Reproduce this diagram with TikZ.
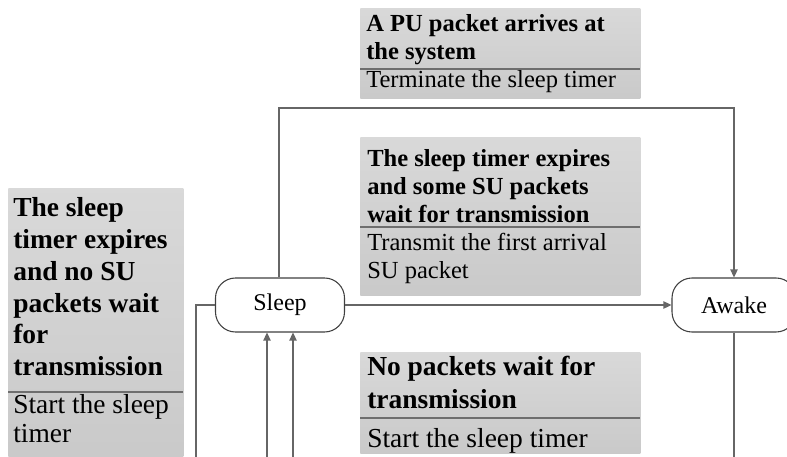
\documentclass[tikz,border=0pt]{standalone}
\usepackage{fontspec}
\setmainfont{Liberation Serif}
\usetikzlibrary{arrows.meta}
\definecolor{conncol}{HTML}{666666}
\definecolor{divcol}{HTML}{6E6E6E}
\tikzset{
  conn/.style={draw=conncol, line width=0.9pt},
  arr/.style={conn, -{Triangle[length=6pt,width=5.5pt]}},
  state/.style={draw=black!75, line width=0.8pt, rounded corners=15pt,
    minimum width=96.75pt, minimum height=40.5pt, inner sep=0pt,
    font=\fontsize{18}{21}\selectfont, fill=white},
  box/.style={anchor=north west, inner sep=0pt, top color=gray!30, bottom color=gray!42, draw=none},
  divider/.style={draw=divcol, line width=1.1pt},
  hs/.style={anchor=base west, inner sep=0pt, font=\fontsize{18.4}{21}\selectfont\bfseries},
  ts/.style={anchor=base west, inner sep=0pt, font=\fontsize{18.4}{21}\selectfont},
  hl/.style={anchor=base west, inner sep=0pt, font=\fontsize{20.6}{24}\selectfont\bfseries},
  tl/.style={anchor=base west, inner sep=0pt, font=\fontsize{20.6}{24}\selectfont},
}
\begin{document}
\begin{tikzpicture}[x=0.75pt, y=-0.75pt]
\clip (0,0) rectangle (787,456);
\fill[white] (0,0) rectangle (787,456);

% boxes
\node[box, minimum width=210pt, minimum height=67.5pt] (pubox) at (360,8) {};
\node[box, minimum width=210pt, minimum height=118.5pt] (subox) at (360,137) {};
\node[box, minimum width=210pt, minimum height=75.75pt] (npbox) at (360,352) {};
\node[box, minimum width=131.25pt, minimum height=204pt] (lbox) at (8,188) {};

% dividers
\coordinate (d1) at (360,69);  \draw[divider] (d1) -- ++(280,0);
\coordinate (d2) at (360,227); \draw[divider] (d2) -- ++(280,0);
\coordinate (d3) at (360,418); \draw[divider] (d3) -- ++(280,0);
\coordinate (d4) at (8,392);   \draw[divider] (d4) -- ++(175,0);

% texts: top box
\node[hs] (p1) at (366,32) {A PU packet arrives at};
\node[hs] (p2) at (366,60) {the system};
\node[ts] (p3) at (366,88) {Terminate the sleep timer};
% middle box
\node[hs] (s1) at (367,166) {The sleep timer expires};
\node[hs] (s2) at (367,194) {and some SU packets};
\node[hs] (s3) at (367,222) {wait for transmission};
\node[ts] (s4) at (367,250) {Transmit the first arrival};
\node[ts] (s5) at (367,278) {SU packet};
% lower box
\node[hl] (n1) at (367,375) {No packets wait for};
\node[hl] (n2) at (367,408) {transmission};
\node[tl] (n3) at (367,447) {Start the sleep timer};
% left box
\node[hl] (l1) at (13,216) {The sleep};
\node[hl] (l2) at (13,248) {timer expires};
\node[hl] (l3) at (13,280) {and no SU};
\node[hl] (l4) at (13,312) {packets wait};
\node[hl] (l5) at (13,343) {for};
\node[hl] (l6) at (13,375) {transmission};
\node[tl] (l7) at (13,413) {Start the sleep};
\node[tl] (l8) at (13,442) {timer};

% states
\node[state] (sleep) at (280,305) {Sleep};
\node[state, minimum width=93pt] (awake) at (734,305) {Awake};

% connectors
\coordinate (top) at (279,108);
\draw[arr] (sleep.north -| top) |- (awake.north |- top) -- (awake.north);
\draw[arr] (sleep.east) -- (awake.west);
\coordinate (lft) at (196,470);
\draw[conn] (sleep.west) -| (lft);
\coordinate (b1) at (267,470);
\coordinate (b2) at (293,470);
\draw[arr] (b1) -- (b1 |- sleep.south);
\draw[arr] (b2) -- (b2 |- sleep.south);
\coordinate (ab) at (734,470);
\draw[conn] (awake.south) -- (ab);
\end{tikzpicture}
\end{document}
